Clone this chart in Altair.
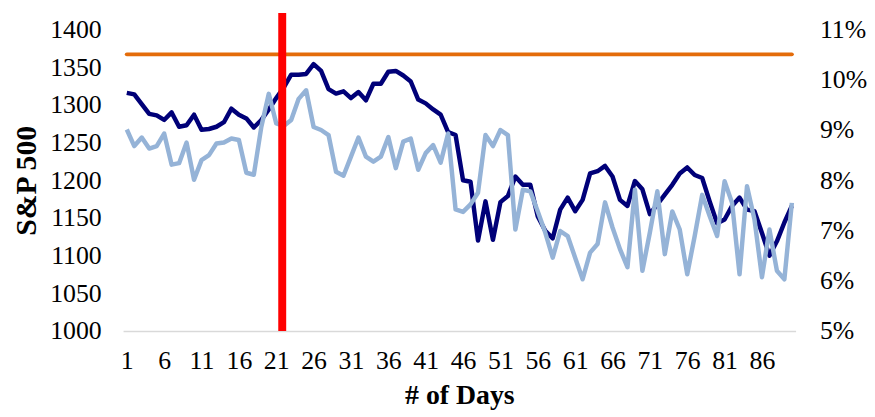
import altair as alt
import pandas as pd

days = list(range(1, 91))

sp500 = [1316, 1314, 1301, 1288, 1286, 1280, 1290, 1271, 1273, 1287,
         1267, 1268, 1271, 1277, 1295, 1287, 1282, 1270, 1280, 1294,
         1309, 1323, 1340, 1340, 1341, 1354, 1345, 1321, 1315, 1318,
         1309, 1317, 1306, 1328, 1328, 1344, 1345, 1339, 1331, 1307,
         1302, 1294, 1287, 1264, 1260, 1200, 1198, 1120, 1172, 1121,
         1171, 1179, 1205, 1194, 1194, 1152, 1133, 1123, 1161, 1177,
         1159, 1174, 1209, 1212, 1219, 1205, 1174, 1166, 1199, 1188,
         1155, 1168, 1181, 1194, 1209, 1217, 1207, 1203, 1172, 1143,
         1148, 1166, 1177, 1161, 1159, 1130, 1100, 1119, 1144, 1166]

rate_pct = [9.01, 8.68, 8.85, 8.63, 8.68, 8.93, 8.31, 8.34, 8.75, 8.01,
            8.40, 8.50, 8.73, 8.75, 8.83, 8.80, 8.15, 8.11, 9.06, 9.72,
            9.13, 9.08, 9.20, 9.62, 9.79, 9.06, 9.00, 8.90, 8.17, 8.09,
            8.47, 8.85, 8.47, 8.37, 8.47, 8.86, 8.24, 8.77, 8.83, 8.21,
            8.54, 8.70, 8.35, 8.93, 7.42, 7.37, 7.52, 7.75, 8.90, 8.68,
            9.00, 8.90, 7.02, 7.81, 7.78, 7.38, 6.96, 6.46, 6.99, 6.89,
            6.46, 6.03, 6.56, 6.73, 7.56, 7.06, 6.63, 6.27, 7.81, 6.20,
            6.96, 7.78, 6.53, 7.38, 7.02, 6.13, 6.89, 7.71, 7.29, 6.89,
            7.98, 7.55, 6.13, 7.88, 7.22, 6.07, 7.02, 6.20, 6.03, 7.55]

threshold_days = [1, 90]
threshold_value = [1367, 1367]

event_day = [21.8]
event_lo = [0.05]
event_hi = [0.1133]

x_ticks = list(range(1, 90, 5))
left_ticks = [1000, 1050, 1100, 1150, 1200, 1250, 1300, 1350, 1400]
right_ticks = [0.05, 0.06, 0.07, 0.08, 0.09, 0.10, 0.11]

FONT = "Liberation Serif"

main_df = pd.DataFrame({"day": days, "sp": sp500, "rate": [v / 100 for v in rate_pct]})
thr_df = pd.DataFrame({"day": threshold_days, "v": threshold_value})
evt_df = pd.DataFrame({"day": event_day, "lo": event_lo, "hi": event_hi})

x_scale = alt.Scale(domain=[0.5, 90.5], nice=False, zero=False)
x_axis = alt.Axis(values=x_ticks, title="# of Days", grid=False, ticks=False,
                  domainColor="#D9D9D9", domainWidth=1.5, labelPadding=17,
                  titlePadding=8, titleFontSize=28, labelFlush=False)
left_scale = alt.Scale(domain=[1000, 1400], nice=False, zero=False)
left_axis = alt.Axis(values=left_ticks, format="d", title="S&P 500", grid=False,
                     ticks=False, domain=False, labelPadding=22, titlePadding=8)
right_scale = alt.Scale(domain=[0.05, 0.11], nice=False, zero=False)
right_axis = alt.Axis(values=right_ticks, format=".0%", orient="right", title=None,
                      grid=False, ticks=False, domain=False, labelPadding=24)

orange = alt.Chart(thr_df).mark_line(color="#E46C0A", strokeWidth=4, strokeCap="round").encode(
    x=alt.X("day:Q", scale=x_scale, axis=x_axis),
    y=alt.Y("v:Q", scale=left_scale, axis=left_axis),
)
dark = alt.Chart(main_df).mark_line(color="#000078", strokeWidth=4.5, strokeJoin="round").encode(
    x=alt.X("day:Q", scale=x_scale, axis=x_axis),
    y=alt.Y("sp:Q", scale=left_scale, axis=left_axis),
)
light = alt.Chart(main_df).mark_line(color="#95B3D7", strokeWidth=4.5, strokeJoin="round").encode(
    x=alt.X("day:Q", scale=x_scale, axis=x_axis),
    y=alt.Y("rate:Q", scale=right_scale, axis=right_axis),
)
red = alt.Chart(evt_df).mark_rule(color="#FF0000", strokeWidth=8).encode(
    x=alt.X("day:Q", scale=x_scale, axis=x_axis),
    y=alt.Y("lo:Q", scale=right_scale, axis=right_axis),
    y2="hi:Q",
)

left_layer = alt.layer(orange, dark)
right_layer = alt.layer(light, red)

chart = alt.layer(left_layer, right_layer).resolve_scale(y="independent").properties(
    width=678, height=304,
    autosize=alt.AutoSizeParams(type="none"),
    padding={"left": 116, "top": 20, "right": 72, "bottom": 85},
).configure_view(stroke=None).configure_axis(
    labelFont=FONT, titleFont=FONT, labelFontSize=26, titleFontSize=30,
    labelColor="#000000", titleColor="#000000", titleFontWeight="bold",
)

chart.save("out.html", embed_options={"renderer": "svg", "actions": False})
